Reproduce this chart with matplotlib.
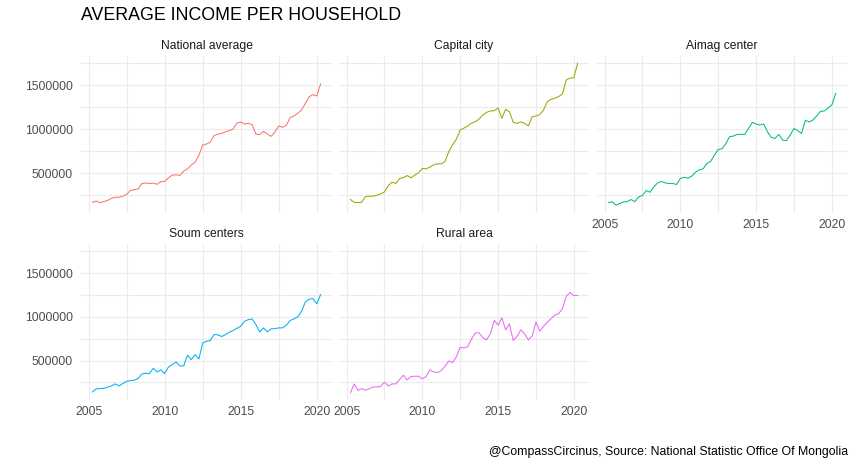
import matplotlib
matplotlib.use("Agg")
import matplotlib.pyplot as plt
from matplotlib.ticker import FixedLocator, FuncFormatter
import pandas as pd

# quarterly, 2005Q1 .. 2020Q1 (plotted at quarter end)
quarters = pd.period_range("2005Q1", "2020Q1", freq="Q")

national_average = [
    170000, 185000, 165000, 178000, 192000, 215000, 228000, 228000, 240000, 260000,
    305000, 315000, 320000, 384000, 390000, 385000, 388000, 376000, 405000, 408000,
    448000, 480000, 483000, 476000, 525000, 551000, 595000, 627000, 705000, 822000,
    833000, 855000, 930000, 945000, 954000, 972000, 985000, 1005000, 1072000, 1084000,
    1061000, 1068000, 1053000, 945000, 940000, 977000, 947000, 920000, 970000, 1038000,
    1023000, 1046000, 1135000, 1152000, 1183000, 1221000, 1295000, 1370000, 1395000, 1380000,
    1517000,
]
capital_city = [
    202000, 171000, 167000, 171000, 236000, 240000, 240000, 251000, 266000, 289000,
    361000, 399000, 384000, 441000, 452000, 475000, 449000, 479000, 506000, 555000,
    551000, 570000, 597000, 608000, 608000, 635000, 749000, 825000, 890000, 992000,
    1015000, 1038000, 1072000, 1087000, 1118000, 1163000, 1194000, 1209000, 1213000, 1243000,
    1125000, 1228000, 1201000, 1080000, 1068000, 1084000, 1068000, 1038000, 1144000, 1152000,
    1167000, 1221000, 1316000, 1342000, 1354000, 1373000, 1403000, 1563000, 1582000, 1586000,
    1753000,
]
aimag_center = [
    167000, 178000, 137000, 156000, 175000, 178000, 202000, 178000, 232000, 247000,
    304000, 285000, 346000, 392000, 407000, 392000, 384000, 384000, 373000, 441000,
    456000, 445000, 468000, 513000, 540000, 551000, 612000, 635000, 707000, 772000,
    779000, 837000, 916000, 924000, 943000, 943000, 943000, 1011000, 1080000, 1061000,
    1049000, 1061000, 973000, 909000, 897000, 943000, 878000, 871000, 935000, 1011000,
    985000, 954000, 1103000, 1084000, 1106000, 1152000, 1205000, 1209000, 1243000, 1278000,
    1407000,
]
soum_centers = [
    141000, 176000, 179000, 183000, 195000, 210000, 233000, 210000, 237000, 263000,
    271000, 275000, 294000, 347000, 355000, 351000, 412000, 370000, 393000, 351000,
    427000, 454000, 485000, 439000, 439000, 561000, 511000, 569000, 519000, 702000,
    721000, 729000, 798000, 794000, 775000, 798000, 824000, 844000, 870000, 893000,
    950000, 969000, 977000, 912000, 828000, 874000, 828000, 863000, 866000, 874000,
    874000, 905000, 958000, 977000, 1000000, 1065000, 1172000, 1202000, 1210000, 1149000,
    1256000,
]
rural_area = [
    130000, 233000, 160000, 179000, 160000, 179000, 198000, 198000, 206000, 252000,
    210000, 233000, 233000, 282000, 332000, 279000, 317000, 321000, 321000, 290000,
    317000, 393000, 370000, 363000, 385000, 435000, 496000, 477000, 546000, 653000,
    645000, 660000, 748000, 817000, 817000, 760000, 737000, 813000, 962000, 905000,
    989000, 851000, 920000, 729000, 779000, 851000, 805000, 737000, 782000, 943000,
    836000, 893000, 939000, 981000, 1019000, 1038000, 1095000, 1237000, 1279000, 1244000,
    1244000,
]

panel_names = ["National average", "Capital city", "Aimag center", "Soum centers", "Rural area"]
panel_values = [national_average, capital_city, aimag_center, soum_centers, rural_area]
panel_colors = ["#F8766D", "#A3A500", "#00BF7D", "#00B0F6", "#E76BF3"]

x_major = [2005, 2010, 2015, 2020]
x_minor = [2007.5, 2012.5, 2017.5]
y_major = [500000, 1000000, 1500000]
y_minor = [250000, 750000, 1250000, 1750000]

plt.rcParams["font.family"] = ["Liberation Sans", "DejaVu Sans"]

W, H = 855, 465
fig = plt.figure(figsize=(W / 100, H / 100), dpi=100)

x = [q.year + q.quarter / 4 for q in quarters]
all_vals = [v for s in panel_values for v in s]
ylo, yhi = min(all_vals), max(all_vals)
ypad = 0.05 * (yhi - ylo)
xpad = 0.05 * (max(x) - min(x))

# pixel boxes for the facet grid (left, width) / (top, height)
cols = [(81, 251), (339, 250), (597, 250)]
rows = [(56, 157), (244, 156)]

grid_col = "#EBEBEB"
for i, (name, vals, col) in enumerate(zip(panel_names, panel_values, panel_colors)):
    r, c = divmod(i, 3)
    left, w = cols[c]
    top, h = rows[r]
    ax = fig.add_axes([left / W, 1 - (top + h) / H, w / W, h / H])
    ax.plot(x, vals, color=col, lw=0.75)
    ax.set_xlim(min(x) - xpad, max(x) + xpad)
    ax.set_ylim(ylo - ypad, yhi + ypad)
    ax.xaxis.set_major_locator(FixedLocator(x_major))
    ax.xaxis.set_minor_locator(FixedLocator(x_minor))
    ax.yaxis.set_major_locator(FixedLocator(y_major))
    ax.yaxis.set_minor_locator(FixedLocator(y_minor))
    ax.grid(which="major", color=grid_col, lw=0.8)
    ax.grid(which="minor", color=grid_col, lw=0.8)
    ax.set_axisbelow(True)
    for s in ax.spines.values():
        s.set_visible(False)
    ax.tick_params(which="both", length=0, labelsize=8.7, labelcolor="#4D4D4D")
    ax.tick_params(axis="x", pad=4)
    ax.tick_params(axis="y", pad=6)
    ax.yaxis.set_major_formatter(FuncFormatter(lambda v, p: f"{int(v)}"))
    ax.xaxis.set_major_formatter(FuncFormatter(lambda v, p: f"{int(v)}"))
    if c != 0:
        ax.set_yticklabels([])
    # x labels only where there is no panel below
    if r == 0 and c < 2:
        ax.set_xticklabels([])
    ax.set_title(name, fontsize=8.7, color="#1A1A1A", pad=5)

fig.text(81 / W, 1 - 15.5 / H, "AVERAGE INCOME PER HOUSEHOLD", fontsize=12.8,
         color="black", ha="left", va="center")
fig.text(848 / W, 1 - 452 / H,
         "@CompassCircinus, Source: National Statistic Office Of Mongolia",
         fontsize=8.8, color="black", ha="right", va="center")

fig.savefig("out.png", dpi=100)
